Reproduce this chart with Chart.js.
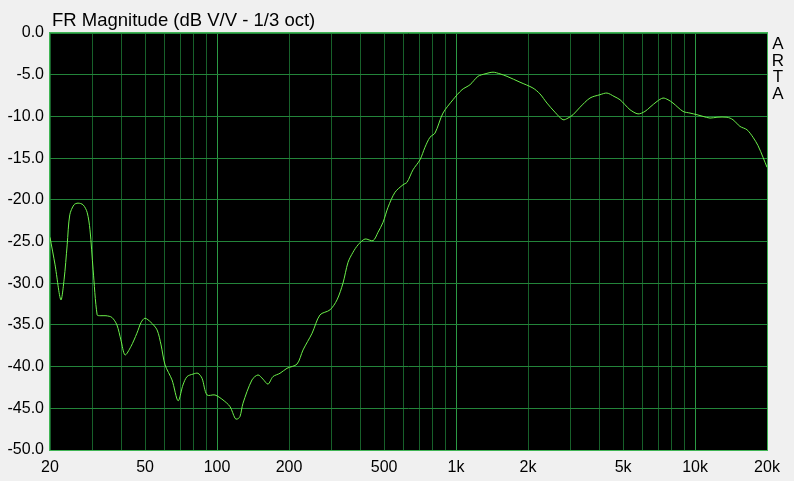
<!DOCTYPE html>
<html>
<head>
<meta charset="utf-8">
<script src="https://cdn.jsdelivr.net/npm/chart.js@4"></script>
<style>
  html, body { margin: 0; padding: 0; background: #f0f0f0; }
  #wrap { width: 794px; height: 481px; position: relative; }
</style>
</head>
<body>
<div id="wrap"><canvas id="frChart" width="794" height="481"></canvas></div>
<script>
// Frequency response
var freqs = [20, 21, 22.2, 22.9, 23.6, 24.2, 25.2, 26.2, 27.5, 28.6, 29.4, 30.3, 31.5, 32.4, 34.3, 36.3, 38.1, 39.6,
  41.2, 43.6, 46.2, 48.1, 49.9, 52.9, 56.1, 58.3, 60.6, 64.8, 68.7, 72, 74.9, 79.3, 83.2, 86.5, 90.8, 98,
  105.9, 113.3, 118.9, 121.2, 124.7, 128.4, 140, 148.4, 155.6, 163.4, 171.4, 183.4, 196.2, 216, 229, 249.8,
  269.6, 296.8, 317.6, 336.4, 353.2, 370.4, 389, 416, 449.4, 471.4, 494.8, 519.2, 555.4, 599.8, 623.4, 660.6,
  706.6, 741.4, 778, 816.4, 882, 971, 1059, 1144, 1235, 1322, 1428, 1527, 1634, 1852, 2098, 2244, 2401, 2594,
  2802, 2941, 3086, 3302, 3634, 4002, 4282, 4580, 4854, 5092, 5344, 5772, 6174, 6480, 6932, 7344, 7706, 8086,
  8906, 9526, 10190, 10796, 11550, 12354, 13604, 14412, 15418, 16492, 17474, 18340, 19246, 20000];
var magDb = [-24.5, -27.8, -32.0, -29.6, -25.4, -21.8, -20.6, -20.4, -20.6, -21.5, -23.6, -28.4, -33.8, -33.9, -33.9, -34.1, -35.0, -36.8,
  -38.6, -37.6, -36.0, -34.7, -34.2, -34.7, -35.6, -37.4, -39.8, -41.6, -44.1, -42.2, -41.2, -40.9, -40.8, -41.4, -43.4, -43.4,
  -44.0, -44.8, -46.2, -46.3, -46.0, -44.4, -41.6, -41.0, -41.5, -42.1, -41.2, -40.8, -40.2, -39.7, -38.0, -36.0,
  -33.8, -33.2, -32.0, -30.0, -27.5, -26.3, -25.4, -24.7, -24.9, -23.9, -22.7, -20.9, -19.1, -18.2, -17.9, -16.4,
  -15.2, -13.7, -12.5, -12.0, -9.6, -8.0, -6.8, -6.2, -5.2, -4.9, -4.7, -4.9, -5.2, -5.9, -6.6, -7.3, -8.4, -9.5,
  -10.4, -10.2, -9.8, -8.9, -7.8, -7.4, -7.2, -7.6, -8.0, -8.6, -9.2, -9.7, -9.4, -8.9, -8.2, -7.8, -8.0, -8.4,
  -9.4, -9.6, -9.8, -10.0, -10.2, -10.1, -10.1, -10.4, -11.2, -11.6, -12.5, -13.5, -14.9, -16.1];

// grid lines at every 1-2-3..9 step, labels only on some
var gridFreqs = [20, 30, 40, 50, 60, 70, 80, 90, 100, 200, 300, 400, 500, 600, 700, 800, 900,
  1000, 2000, 3000, 4000, 5000, 6000, 7000, 8000, 9000, 10000, 20000];
var labelFreqs = [20, 50, 100, 200, 500, 1000, 2000, 5000, 10000, 20000];
var xLabels = ['20', '50', '100', '200', '500', '1k', '2k', '5k', '10k', '20k'];

var titleText = 'FR Magnitude (dB V/V - 1/3 oct)';
var sideText = ['A', 'R', 'T', 'A'];

var FONT = '"Liberation Sans", Arial, sans-serif';

var plotFrame = {
    id: 'plotFrame',
    beforeDraw: function (chart) {
        var ctx = chart.ctx, a = chart.chartArea;
        ctx.save();
        ctx.fillStyle = '#f0f0f0';
        ctx.fillRect(0, 0, chart.width, chart.height);
        ctx.fillStyle = '#000000';
        ctx.fillRect(a.left, a.top, a.right - a.left, a.bottom - a.top);
        ctx.restore();
    },
    afterDraw: function (chart) {
        var ctx = chart.ctx, a = chart.chartArea;
        ctx.save();
        ctx.strokeStyle = '#3fb454';
        ctx.lineWidth = 1;
        ctx.strokeRect(a.left - 0.5, a.top - 0.5, a.right - a.left + 1, a.bottom - a.top + 1);
        ctx.fillStyle = '#000000';
        ctx.font = '18.5px ' + FONT;
        ctx.textBaseline = 'alphabetic';
        ctx.textAlign = 'left';
        ctx.fillText(titleText, 52, 26);
        ctx.font = '17px ' + FONT;
        ctx.textAlign = 'center';
        sideText.forEach(function (ch, i) {
            ctx.fillText(ch, 778, 49 + i * 16.5);
        });
        ctx.restore();
    }
};

var ctx = document.getElementById('frChart').getContext('2d');
var frChart = new Chart(ctx, {
    type: 'line',
    data: {
        datasets: [{
            data: freqs.map(function (f, i) { return { x: f, y: magDb[i] }; }),
            borderColor: '#6cf04a',
            borderWidth: 1,
            pointRadius: 0,
            tension: 0.3,
            fill: false
        }]
    },
    options: {
        responsive: false,
        animation: false,
        layout: { padding: { left: 0, right: 27, top: 33, bottom: 0 } },
        plugins: { legend: { display: false }, tooltip: { enabled: false } },
        scales: {
            x: {
                type: 'logarithmic',
                min: 20,
                max: 20000,
                afterBuildTicks: function (scale) {
                    scale.ticks = gridFreqs.map(function (v) { return { value: v }; });
                },
                afterFit: function (scale) { scale.height = 31; },
                ticks: {
                    autoSkip: false,
                    maxRotation: 0,
                    padding: 8,
                    color: '#000000',
                    font: { family: FONT, size: 16 },
                    callback: function (v) {
                        var k = labelFreqs.indexOf(v);
                        return k >= 0 ? xLabels[k] : '';
                    }
                },
                grid: {
                    drawTicks: false,
                    color: function (c) {
                        var v = c.tick && c.tick.value;
                        return (v === 100 || v === 1000 || v === 10000) ? '#2b9a44' : '#17602a';
                    }
                },
                border: { display: false }
            },
            y: {
                min: -50,
                max: 0,
                afterBuildTicks: function (scale) {
                    var t = [];
                    for (var v = -50; v <= 0; v += 5) t.push({ value: v });
                    scale.ticks = t;
                },
                afterFit: function (scale) { scale.width = 50; },
                ticks: {
                    padding: 6,
                    color: '#000000',
                    font: { family: FONT, size: 16 },
                    callback: function (v) { return v.toFixed(1); }
                },
                grid: { drawTicks: false, color: '#23843a' },
                border: { display: false }
            }
        }
    },
    plugins: [plotFrame]
});
</script>
</body>
</html>
